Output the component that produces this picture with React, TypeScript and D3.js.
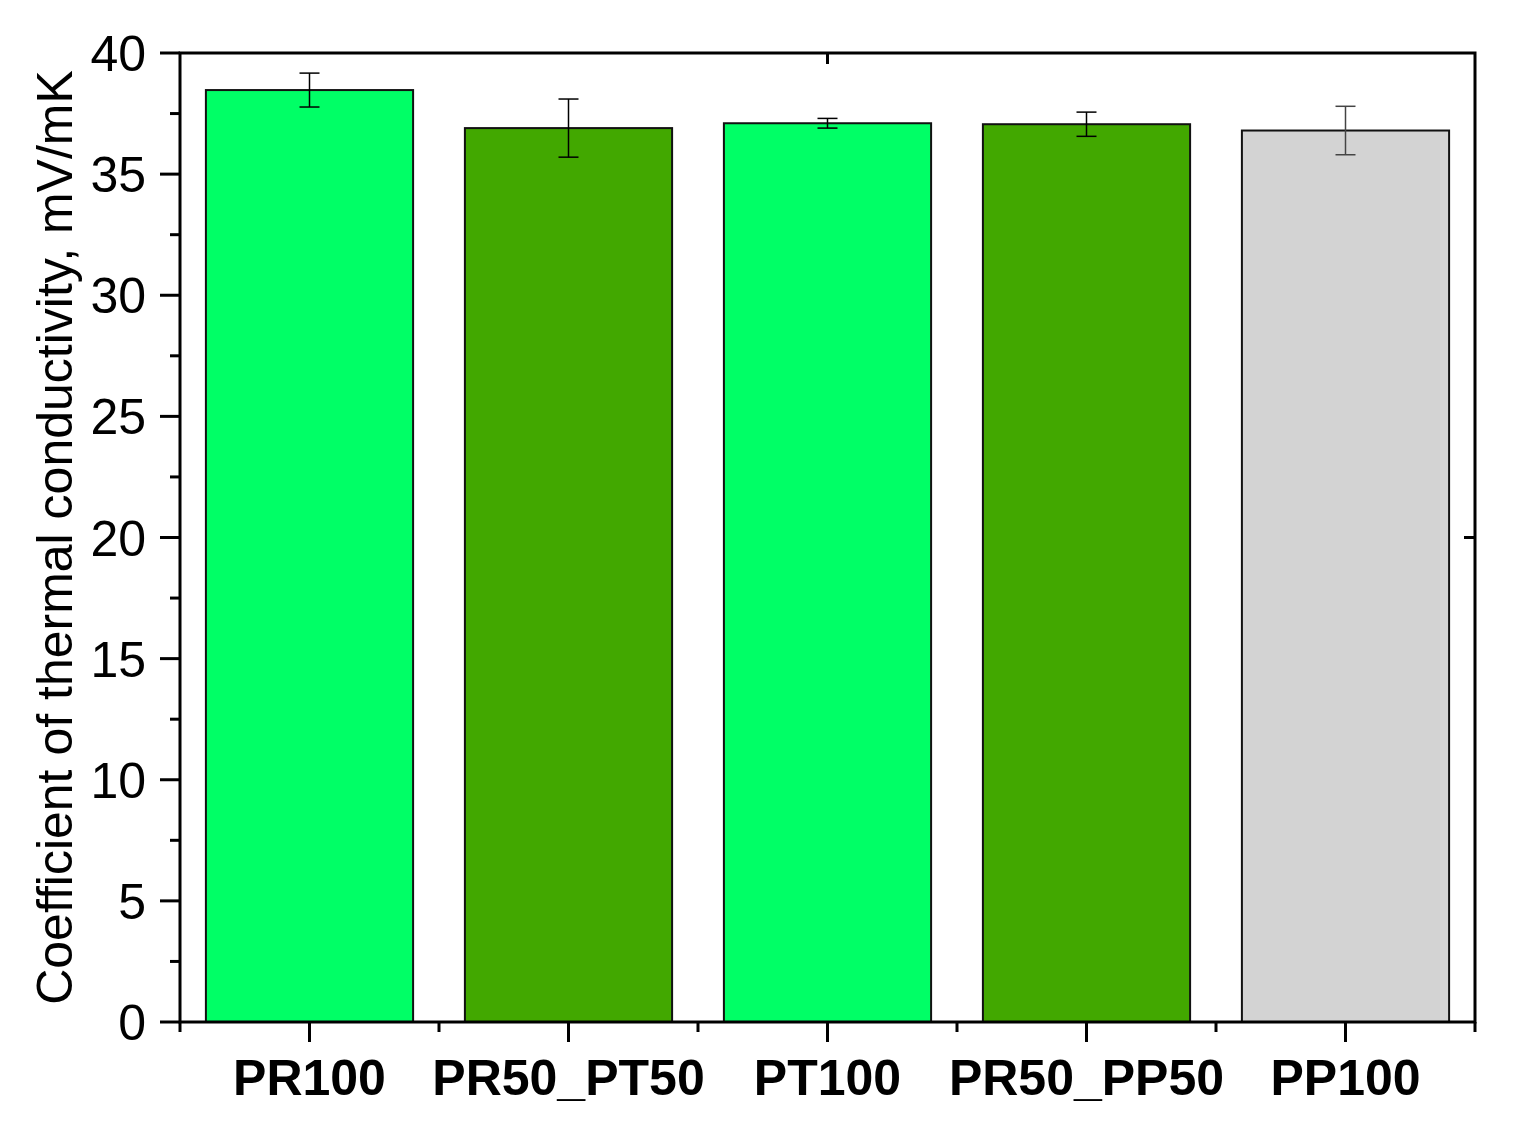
import React, { useRef, useEffect } from "react";
import * as d3 from "d3";

const width = 1514;
const height = 1138;
const margin = { top: 53, right: 39, bottom: 116, left: 180 };

const categories = ["PR100", "PR50_PT50", "PT100", "PR50_PP50", "PP100"];
const values = [38.47, 36.9, 37.1, 37.06, 36.8];
const errors = [0.7, 1.2, 0.2, 0.5, 1.0];
const barColors = ["#00ff66", "#42a800", "#00ff66", "#42a800", "#d3d3d3"];
const errColors = ["#000", "#000", "#000", "#000", "#444"];
const yTicks = [0, 5, 10, 15, 20, 25, 30, 35, 40];
const yMinor = [2.5, 7.5, 12.5, 17.5, 22.5, 27.5, 32.5, 37.5];

export default function App() {
  const ref = useRef<SVGSVGElement | null>(null);

  useEffect(() => {
    const svg = d3.select(ref.current);
    svg.selectAll("*").remove();

    const iw = width - margin.left - margin.right;
    const ih = height - margin.top - margin.bottom;
    const font = "'Liberation Sans', Arial, sans-serif";

    const xc = d3.scaleBand<string>().domain(categories).range([0, iw]);
    const y = d3.scaleLinear().domain([0, 40]).range([ih, 0]);

    const g = svg.append("g").attr("transform", `translate(${margin.left},${margin.top})`);

    // bars, 80% of each category slot
    const bw = xc.bandwidth() * 0.8;
    g.selectAll("rect.bar")
      .data(categories)
      .enter()
      .append("rect")
      .attr("class", "bar")
      .attr("x", (d) => xc(d)! + (xc.bandwidth() - bw) / 2)
      .attr("width", bw)
      .attr("y", (_, i) => y(values[i]))
      .attr("height", (_, i) => ih - y(values[i]))
      .attr("fill", (_, i) => barColors[i])
      .attr("stroke", "#111")
      .attr("stroke-width", 2);

    // error bars
    const cx = (d: string) => xc(d)! + xc.bandwidth() / 2;
    const eb = g.selectAll("g.err").data(categories).enter().append("g")
      .attr("stroke", (_, i) => errColors[i])
      .attr("stroke-width", 1.5);
    eb.append("line")
      .attr("x1", cx).attr("x2", cx)
      .attr("y1", (_, i) => y(values[i] + errors[i]))
      .attr("y2", (_, i) => y(values[i] - errors[i]));
    [1, -1].forEach((s) => {
      eb.append("line")
        .attr("x1", (d) => cx(d) - 10).attr("x2", (d) => cx(d) + 10)
        .attr("y1", (_, i) => y(values[i] + s * errors[i]))
        .attr("y2", (_, i) => y(values[i] + s * errors[i]));
    });

    // frame
    g.append("rect")
      .attr("width", iw).attr("height", ih)
      .attr("fill", "none").attr("stroke", "#000").attr("stroke-width", 3);

    // left axis
    const left = g.append("g").attr("stroke", "#000").attr("stroke-width", 3);
    left.selectAll("line.maj").data(yTicks).enter().append("line")
      .attr("x1", -20).attr("x2", 0).attr("y1", (d) => y(d)).attr("y2", (d) => y(d));
    left.selectAll("line.min").data(yMinor).enter().append("line")
      .attr("x1", -10).attr("x2", 0).attr("y1", (d) => y(d)).attr("y2", (d) => y(d));
    g.selectAll("text.yt").data(yTicks).enter().append("text")
      .attr("x", -34).attr("y", (d) => y(d))
      .attr("dy", "0.36em")
      .attr("text-anchor", "end")
      .attr("font-family", font).attr("font-size", 50)
      .text((d) => d);

    // right axis single tick
    g.append("line").attr("stroke", "#000").attr("stroke-width", 3)
      .attr("x1", iw - 11).attr("x2", iw).attr("y1", y(20)).attr("y2", y(20));
    // top axis single tick
    g.append("line").attr("stroke", "#000").attr("stroke-width", 3)
      .attr("x1", cx(categories[2])).attr("x2", cx(categories[2])).attr("y1", 0).attr("y2", 11);

    // bottom axis
    const bottom = g.append("g").attr("stroke", "#000").attr("stroke-width", 3);
    bottom.selectAll("line.maj").data(categories).enter().append("line")
      .attr("x1", cx).attr("x2", cx).attr("y1", ih).attr("y2", ih + 20);
    const bounds = categories.map((d) => xc(d)!).concat([iw]);
    bottom.selectAll("line.min").data(bounds).enter().append("line")
      .attr("x1", (d) => d).attr("x2", (d) => d).attr("y1", ih).attr("y2", ih + 10);
    g.selectAll("text.xt").data(categories).enter().append("text")
      .attr("x", cx).attr("y", ih + 55)
      .attr("dy", "0.36em")
      .attr("text-anchor", "middle")
      .attr("font-family", font).attr("font-size", 50).attr("font-weight", "bold")
      .text((d) => d);

    // y title
    g.append("text")
      .attr("transform", `translate(${-108},${ih / 2}) rotate(-90)`)
      .attr("text-anchor", "middle")
      .attr("font-family", font).attr("font-size", 50)
      .text("Coefficient of thermal conductivity, mV/mK");
  }, []);

  return (
    <div style={{ position: "absolute", left: 0, top: 0 }}>
      <svg ref={ref} width={width} height={height} style={{ display: "block", background: "#fff" }} />
    </div>
  );
}
